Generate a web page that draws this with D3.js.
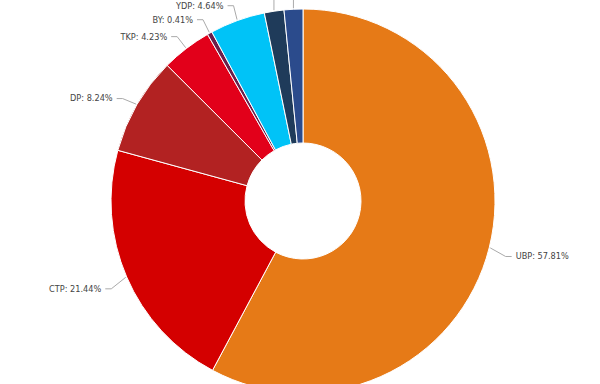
<!DOCTYPE html>
<html>
<head>
<meta charset="utf-8">
<script src="https://cdn.jsdelivr.net/npm/d3@7"></script>
<style>
  body { margin: 0; background: #fff; }
  svg { display: block; font-family: "DejaVu Sans", Verdana, sans-serif; }
</style>
</head>
<body>
<div id="chart"></div>
<script>
const parties = ["UBP", "CTP", "DP", "TKP", "BY", "YDP", "HP", "Bağımsız"];
const shares = [57.81, 21.44, 8.24, 4.23, 0.41, 4.64, 1.65, 1.58];
const colors = ["#e67a17", "#d40000", "#b22222", "#e2001a", "#6b1e4b", "#00c3f7", "#1f3b5a", "#2b4b8c"];

const width = 600, height = 384;
const cx = 303, cy = 201, radius = 192, inner = 58;
const labelR = radius + 20;

const svg = d3.select("#chart").append("svg")
    .attr("width", width)
    .attr("height", height);

const g = svg.append("g").attr("transform", `translate(${cx}, ${cy})`);

const data = parties.map((p, i) => ({ name: p, value: shares[i], color: colors[i] }));

const pie = d3.pie().sort(null).value(d => d.value);
const arcs = pie(data);

const arc = d3.arc().innerRadius(inner).outerRadius(radius);

g.selectAll("path.slice")
    .data(arcs)
    .enter()
    .append("path")
    .attr("class", "slice")
    .attr("d", arc)
    .attr("fill", d => d.data.color)
    .attr("stroke", "#fff")
    .attr("stroke-width", 1);

// label positions: natural spot on outer ring, then push apart upwards
const labels = arcs.map(d => {
    const a = (d.startAngle + d.endAngle) / 2;
    const side = Math.sin(a) >= 0 ? 1 : -1;
    return {
        d: d,
        a: a,
        side: side,
        ex: (radius + 1) * Math.sin(a),
        ey: -(radius + 1) * Math.cos(a),
        y: -labelR * Math.cos(a) + 4,
        x: labelR * Math.sin(a) + side * 6,
        out: false
    };
});

[1, -1].forEach(side => {
    const list = labels.filter(l => l.side === side).sort((p, q) => p.y - q.y);
    for (let i = list.length - 2; i >= 0; i--) {
        list[i].y = Math.min(list[i].y, list[i + 1].y - 14);
    }
});

// labels squeezed past the top edge end up outside the plot (only their connector shows)
let nOut = 0;
labels.forEach(l => {
    if (cy + l.y < 4) {
        l.out = true;
        l.y = -cy - 30 - nOut * 16;
        l.x = l.ex;
        nOut++;
    }
});

const lab = g.selectAll("g.label")
    .data(labels)
    .enter()
    .append("g")
    .attr("class", "label");

lab.append("path")
    .attr("fill", "none")
    .attr("stroke", "#aaa")
    .attr("stroke-width", 1)
    .attr("d", l => {
        if (l.out) return `M${l.ex},${l.y + 5} L${l.ex},${l.ey}`;
        const x0 = l.x - l.side * 3;
        const x1 = x0 - l.side * 6;
        return `M${x0},${l.y} L${x1},${l.y} L${l.ex},${l.ey}`;
    });

lab.append("text")
    .attr("x", l => l.x + l.side * 1)
    .attr("y", l => l.y)
    .attr("dy", "0.35em")
    .attr("text-anchor", l => l.out ? "middle" : (l.side > 0 ? "start" : "end"))
    .attr("font-size", "8.2px")
    .attr("fill", "#444")
    .text(l => `${l.d.data.name}: ${l.d.data.value.toFixed(2)}%`);
</script>
</body>
</html>
